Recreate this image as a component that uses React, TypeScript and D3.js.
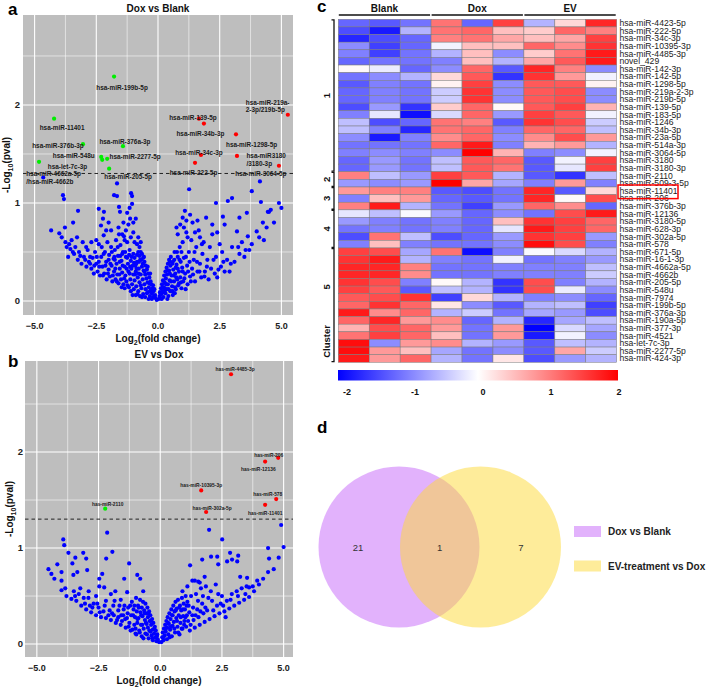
import * as d3 from 'd3'

const FONT = '"Liberation Sans", Arial, Helvetica, sans-serif'

// ---------------- volcano a : Dox vs Blank ----------------
const volcA_ns: [number, number][] = [
  [-0.05,0.01],[-0.1,0.03],[-0.12,0.06],[-0.15,0.05],[-0.18,0.1],[-0.2,0.04],[-0.22,0.13],[-0.25,0.08],[-0.27,0.17],[-0.3,0.11],
  [-0.3,0.2],[-0.33,0.05],[-0.35,0.24],[-0.37,0.14],[-0.4,0.28],[-0.4,0.09],[-0.42,0.19],[-0.45,0.32],[-0.47,0.23],[-0.5,0.36],
  [-0.5,0.12],[-0.52,0.27],[-0.55,0.4],[-0.55,0.17],[-0.58,0.31],[-0.6,0.44],[-0.6,0.07],[-0.62,0.22],[-0.65,0.48],[-0.65,0.35],
  [-0.67,0.13],[-0.7,0.5],[-0.7,0.27],[-0.72,0.42],[-0.75,0.19],[-0.75,0.46],[-0.78,0.33],[-0.8,0.1],[-0.8,0.5],[-0.82,0.24],
  [-0.85,0.4],[-0.85,0.47],[-0.88,0.15],[-0.9,0.3],[-0.92,0.36],[-0.95,0.21],[-0.95,0.44],[-0.98,0.12],[-1.0,0.27],[-1.0,0.48],
  [-1.05,0.17],[-1.08,0.33],[-1.1,0.41],[-1.12,0.22],[-1.15,0.52],[-1.18,0.14],[-1.2,0.3],[-1.22,0.38],[-1.25,0.6],[-1.28,0.2],
  [-1.3,0.45],[-1.32,0.26],[-1.35,0.35],[-1.38,0.66],[-1.4,0.17],[-1.42,0.5],[-1.45,0.29],[-1.48,0.41],[-1.5,0.22],[-1.52,0.57],
  [-1.55,0.33],[-1.58,0.68],[-1.6,0.18],[-1.62,0.46],[-1.65,0.27],[-1.68,0.38],[-1.7,0.62],[-1.72,0.22],[-1.75,0.52],[-1.78,0.3],
  [-1.8,0.43],[-1.85,0.2],[-1.88,0.36],[-1.9,0.55],[-1.95,0.25],[-1.98,0.47],[-2.0,0.32],[-2.05,0.6],[-2.08,0.22],[-2.1,0.4],
  [-2.15,0.5],[-2.18,0.28],[-2.2,0.67],[-2.25,0.35],[-2.3,0.45],[-2.35,0.26],[-2.4,0.58],[-2.45,0.3],[-2.5,0.38],[-2.55,0.5],
  [-2.6,0.28],[-2.65,0.44],[-2.7,0.33],[-2.8,0.4],[-2.85,0.52],[-2.9,0.35],[-3.0,0.45],[-3.05,0.6],[-3.1,0.38],[-3.2,0.5],
  [-3.25,0.42],[-3.35,0.55],[-3.45,0.5],[-3.5,0.62],[-3.6,0.58],
  [-0.9,0.84],[-1.13,0.84],[-1.05,0.99],[-1.05,1.07],[-1.09,1.1],[-1.54,0.91],[-1.58,0.96],[-1.66,1.07],[-1.78,1.08],[-1.66,1.2],
  [-2.31,0.77],[-2.19,0.91],[-2.23,0.84],[-2.4,0.94],[-2.75,0.45],[-2.91,0.55],[-3.28,0.65],[-3.64,0.45],[-3.7,0.55],[-3.24,0.92],
  [-3.44,0.8],[-3.77,0.75],[-3.81,1.04],[-3.85,1.08],[-4.0,0.69],[-4.33,0.72],
  [-0.95,0.6],[-1.0,0.7],[-1.1,0.65],[-1.2,0.78],[-1.3,0.72],[-1.4,0.8],[-1.0,0.8],[-0.85,0.58],[-0.75,0.55],[-1.25,0.9],
  [-1.45,0.68],[-1.6,0.75],[-1.9,0.72],[-2.0,0.8],[-2.1,0.72],[-2.5,0.62],[-2.7,0.6],[-1.15,0.95],[-1.35,0.62],[-0.7,0.6],[-0.8,0.65],
  [-0.15,0.12],[-0.25,0.02],[-0.35,0.18],[-0.45,0.08],[-0.55,0.3],[-0.65,0.04],[-0.68,0.42],[-0.78,0.28],[-0.88,0.38],[-0.9,0.06],
  [-1.02,0.36],[-1.15,0.28],[-1.25,0.44],[-1.35,0.13],[-1.45,0.48],[-1.55,0.4],[-1.75,0.42],[-2.0,0.42],[-2.2,0.48],[-2.4,0.4],
  [-0.2,0.16],[-0.32,0.28],[-0.38,0.02],[-0.42,0.35],[-0.52,0.04],[-0.57,0.45],[-0.62,0.38],[-0.7,0.16],[-0.73,0.05],[-0.77,0.4],
  [-0.83,0.07],[-0.87,0.33],[-0.93,0.27],[-0.97,0.39],[-1.03,0.06],[-1.07,0.45],[-1.1,0.1],[-1.13,0.35],[-1.17,0.47],[-1.23,0.16],
  [-1.27,0.33],[-1.33,0.5],[-1.37,0.23],[-1.43,0.36],[-1.47,0.14],[-1.53,0.46],[-1.57,0.27],[-1.63,0.55],[-1.67,0.2],[-1.73,0.33],
  [-1.77,0.45],[-1.83,0.26],[-1.87,0.5],[-1.93,0.38],[-2.03,0.28],[-2.13,0.36],[-2.23,0.26],[-2.28,0.55],[-2.38,0.35],[-2.48,0.45],
  [-2.58,0.36],[-2.75,0.38],[-2.95,0.42],[-3.15,0.46],[-3.4,0.48],[-3.55,0.53],[-3.75,0.6],[-3.9,0.65],
  [0.03,0.02],[0.06,0.05],[0.08,0.09],[0.1,0.03],[0.12,0.13],[0.14,0.07],[0.16,0.17],[0.18,0.1],[0.2,0.21],[0.22,0.04],
  [0.24,0.14],[0.25,0.26],[0.27,0.19],[0.3,0.3],[0.3,0.08],[0.32,0.23],[0.35,0.34],[0.35,0.12],[0.37,0.27],[0.4,0.38],
  [0.4,0.17],[0.42,0.05],[0.45,0.31],[0.45,0.42],[0.47,0.21],[0.5,0.1],[0.5,0.36],[0.52,0.45],[0.55,0.26],[0.57,0.15],
  [0.6,0.4],[0.6,0.06],[0.62,0.32],[0.65,0.2],[0.67,0.5],[0.7,0.28],[0.72,0.12],[0.75,0.37],[0.78,0.22],[0.8,0.45],
  [0.82,0.16],[0.85,0.3],[0.88,0.55],[0.9,0.24],[0.92,0.4],[0.95,0.13],[0.98,0.34],[1.0,0.6],[1.02,0.2],[1.05,0.44],
  [1.1,0.28],[1.15,0.7],[1.18,0.36],[1.2,0.17],[1.25,0.5],[1.3,0.25],[1.35,0.62],[1.38,0.33],[1.4,0.8],[1.45,0.42],
  [1.5,0.2],[1.55,0.55],[1.6,0.3],[1.65,0.72],[1.7,0.38],[1.75,0.24],[1.8,0.48],[1.85,0.6],[1.9,0.3],[1.95,0.85],
  [2.0,0.42],[2.05,0.22],[2.1,0.55],[2.15,0.33],[2.2,0.68],[2.3,0.28],[2.35,0.45],[2.4,0.24],[2.5,0.58],[2.55,0.35],
  [2.6,0.5],[2.7,0.3],[2.8,0.42],[2.9,0.3],[3.0,0.55],[3.1,0.4],[3.2,0.71],[3.3,0.48],[3.4,0.6],[3.5,0.45],
  [3.64,0.66],[3.7,0.52],[3.8,0.58],[4.0,0.71],[4.1,0.65],[4.29,0.62],[4.4,0.75],
  [1.09,0.92],[1.26,1.14],[0.9,0.78],[1.0,0.85],[1.15,0.82],[1.3,0.88],[1.5,0.7],[1.6,0.82],[1.7,0.65],[2.35,1.0],
  [2.63,0.86],[2.83,1.02],[3.0,1.05],[3.6,0.9],[3.8,1.12],[4.13,1.22],[4.17,1.01],[4.5,0.91],[4.25,0.8],[4.57,0.93],
  [4.45,0.91],[2.2,0.78],[2.4,0.7],[2.7,0.78],[3.3,0.85],[1.2,0.65],[0.8,0.68],[0.75,0.75],[1.05,0.75],[4.7,0.8],[4.9,1.0],[5.0,0.95],
  [0.15,0.02],[0.28,0.11],[0.38,0.02],[0.48,0.28],[0.58,0.38],[0.68,0.08],[0.72,0.34],[0.85,0.18],[0.95,0.5],[1.12,0.12],
  [0.1,0.08],[0.19,0.14],[0.23,0.09],[0.33,0.17],[0.38,0.31],[0.43,0.12],[0.48,0.4],[0.53,0.2],[0.58,0.1],[0.63,0.26],
  [0.66,0.42],[0.69,0.14],[0.74,0.24],[0.77,0.5],[0.8,0.33],[0.87,0.42],[0.93,0.19],[1.0,0.3],[1.07,0.23],[1.13,0.45],
  [1.22,0.3],[1.28,0.4],[1.33,0.2],[1.42,0.27],[1.48,0.5],[1.58,0.4],[1.68,0.3],[1.78,0.58],[1.88,0.25],[1.98,0.35],
  [2.25,0.42],[2.45,0.32],[2.65,0.4],[2.95,0.38],[3.25,0.55],[3.55,0.52],
]
const volcA_down = [
  { name: 'hsa-miR-199b-5p', x: -1.78, y: 2.29 },
  { name: 'hsa-miR-11401', x: -4.21, y: 1.86 },
  { name: 'hsa-miR-376b-3p', x: -3.04, y: 1.6 },
  { name: 'hsa-miR-376a-3p', x: -1.42, y: 1.58 },
  { name: 'hsa-miR-548u', x: -2.3, y: 1.47 },
  { name: 'hsa-miR-2277-5p', x: -2.06, y: 1.45 },
  { name: '', x: -2.26, y: 1.44 },
  { name: 'hsa-let-7c-3p', x: -4.82, y: 1.42 },
  { name: 'hsa-miR-205-5p', x: -1.98, y: 1.35 },
]
const volcA_up = [
  { name: 'hsa-miR-139-5p', x: 1.66, y: 1.86 },
  { name: 'hsa-miR-34b-3p', x: 1.86, y: 1.81 },
  { name: 'hsa-miR-1298-5p', x: 3.16, y: 1.7 },
  { name: 'hsa-miR-34c-3p', x: 1.74, y: 1.49 },
  { name: 'hsa-miR-222-5p', x: 1.5, y: 1.41 },
  { name: 'hsa-miR3180\n/3180-3p', x: 3.2, y: 1.48 },
  { name: 'hsa-miR-219a-\n2-3p/219b-5p', x: 5.26, y: 1.9 },
  { name: 'hsa-miR-3064-5p', x: 4.9, y: 1.38 },
]
const volcA_ns_labelled = [
  { name: 'hsa-miR-4662a-5p\n/hsa-miR-4662b', x: -4.65, y: 1.26 },
]
// label placement for a (pixel offsets from the point)
const labelPosA: Record<string, [number, number, string]> = {
  'hsa-miR-199b-5p': [8, 10, 'middle'],
  'hsa-miR-11401': [8, 8, 'middle'],
  'hsa-miR-376b-3p': [-25, 1, 'middle'],
  'hsa-miR-376a-3p': [2, -5, 'middle'],
  'hsa-miR-548u': [-27.5, -2, 'middle'],
  'hsa-miR-2277-5p': [28, -3, 'middle'],
  'hsa-let-7c-3p': [28.5, 4, 'middle'],
  'hsa-miR-205-5p': [19, 7, 'middle'],
  'hsa-miR-139-5p': [-6, -2, 'middle'],
  'hsa-miR-34b-3p': [-3.5, 9, 'middle'],
  'hsa-miR-1298-5p': [-10, 10, 'start'],
  'hsa-miR-34c-3p': [-2, -3, 'middle'],
  'hsa-miR-222-5p': [-1.5, 9, 'middle'],
  'hsa-miR3180\n/3180-3p': [9.5, -1, 'start'],
  'hsa-miR-219a-\n2-3p/219b-5p': [-42, -13, 'start'],
  'hsa-miR-3064-5p': [-18, 7, 'middle'],
  'hsa-miR-4662a-5p\n/hsa-miR-4662b': [-17, -4, 'start'],
}

// ---------------- volcano b : EV vs Dox ----------------
const volcB_ns: [number, number][] = [
  [-4.53,0.78],[-4.41,0.73],[-4.29,0.68],[-4.17,0.83],[-3.93,1.09],[-3.89,1.03],[-4.0,0.75],[-4.0,0.66],[-4.0,0.56],[-3.85,0.58],
  [-3.72,0.95],[-3.56,0.84],[-3.44,0.9],[-3.52,0.72],[-3.36,0.75],[-3.12,0.95],[-3.0,0.89],[-2.96,0.77],[-3.24,0.58],[-2.91,0.48],
  [-2.47,0.68],[-2.35,0.73],[-2.19,0.89],[-2.15,1.16],[-1.94,0.96],[-2.47,0.6],[-2.27,0.59],[-1.82,0.55],[-1.46,0.68],[-1.26,0.84],
  [-0.93,0.72],[-0.81,0.68],[-0.69,0.55],[-1.34,0.54],
  [-3.8,0.5],[-3.6,0.47],[-3.4,0.45],[-3.2,0.4],[-3.0,0.36],[-2.8,0.33],[-2.6,0.3],[-2.4,0.28],[-2.2,0.27],[-2.0,0.25],
  [-1.8,0.22],[-1.6,0.2],[-1.4,0.17],[-1.2,0.14],[-1.0,0.11],[-3.5,0.55],[-3.1,0.48],[-2.7,0.42],[-2.5,0.38],[-2.3,0.34],
  [-2.1,0.3],[-1.9,0.4],[-1.7,0.35],[-1.5,0.3],[-1.3,0.38],[-2.6,0.5],[-2.2,0.45],[-2.0,0.52],[-1.6,0.46],[-1.1,0.3],
  [-1.7,0.28],[-2.45,0.33],[-2.85,0.4],[-1.95,0.32],[-1.55,0.24],[-1.25,0.22],[-1.05,0.2],[-3.3,0.52],[-2.9,0.55],[-1.85,0.45],
  [-1.45,0.4],[-1.15,0.44],[-1.35,0.27],
  [-0.05,0.02],[-0.1,0.05],[-0.12,0.1],[-0.15,0.03],[-0.18,0.14],[-0.2,0.07],[-0.22,0.18],[-0.25,0.11],[-0.28,0.22],[-0.3,0.04],
  [-0.3,0.15],[-0.33,0.26],[-0.35,0.09],[-0.37,0.2],[-0.4,0.3],[-0.4,0.13],[-0.43,0.24],[-0.45,0.34],[-0.47,0.06],[-0.5,0.17],
  [-0.5,0.28],[-0.52,0.38],[-0.55,0.21],[-0.57,0.32],[-0.6,0.11],[-0.6,0.42],[-0.62,0.25],[-0.65,0.35],[-0.67,0.16],[-0.7,0.44],
  [-0.72,0.29],[-0.75,0.08],[-0.75,0.38],[-0.78,0.2],[-0.8,0.33],[-0.82,0.46],[-0.85,0.14],[-0.88,0.27],[-0.9,0.4],[-0.93,0.22],
  [-0.95,0.34],[-0.98,0.48],[-1.0,0.16],[-1.02,0.28],[-1.05,0.4],
  [-0.14,0.08],[-0.24,0.16],[-0.32,0.06],[-0.38,0.24],[-0.44,0.14],[-0.48,0.32],[-0.54,0.1],[-0.58,0.22],[-0.63,0.32],[-0.68,0.06],
  [-0.73,0.2],[-0.77,0.3],[-0.83,0.12],[-0.87,0.38],[-0.92,0.26],[-0.97,0.1],[-1.08,0.36],[-1.12,0.15],[-1.18,0.3],[-1.22,0.4],
  [-1.28,0.18],[-1.32,0.32],[-1.42,0.26],[-1.48,0.36],[-1.58,0.3],[-1.65,0.4],[-1.75,0.25],[-1.88,0.3],[-2.05,0.35],[-2.25,0.4],
  [-2.55,0.42],[-2.75,0.38],[-3.05,0.42],[-3.45,0.5],
  [0.05,0.02],[0.08,0.07],[0.1,0.12],[0.13,0.04],[0.15,0.16],[0.18,0.09],[0.2,0.2],[0.22,0.13],[0.25,0.24],[0.27,0.05],
  [0.28,0.17],[0.3,0.28],[0.33,0.1],[0.35,0.21],[0.37,0.32],[0.4,0.15],[0.42,0.26],[0.45,0.36],[0.47,0.08],[0.5,0.19],
  [0.5,0.3],[0.53,0.4],[0.55,0.23],[0.58,0.34],[0.6,0.12],[0.62,0.44],[0.65,0.27],[0.67,0.37],[0.7,0.18],[0.72,0.46],
  [0.75,0.3],[0.78,0.1],[0.8,0.4],[0.82,0.22],[0.85,0.35],[0.88,0.48],[0.9,0.16],[0.93,0.29],[0.95,0.42],[0.98,0.24],
  [1.0,0.36],[1.03,0.5],[1.05,0.18],[1.08,0.3],[1.1,0.44],
  [0.12,0.07],[0.22,0.16],[0.32,0.22],[0.38,0.07],[0.43,0.18],[0.48,0.3],[0.57,0.16],[0.63,0.35],[0.68,0.24],[0.73,0.12],
  [0.77,0.38],[0.83,0.28],[0.87,0.16],[0.92,0.36],[0.97,0.2],[1.02,0.28],[1.07,0.4],[1.13,0.24],[1.18,0.33],[1.23,0.2],
  [1.33,0.38],[1.43,0.3],[1.53,0.45],[1.63,0.34],[1.73,0.5],[1.83,0.38],[2.15,0.35],[2.35,0.52],[2.55,0.4],[2.85,0.46],
  [3.15,0.5],[3.45,0.52],[3.75,0.6],
  [1.2,0.14],[1.4,0.17],[1.6,0.2],[1.8,0.23],[2.0,0.26],[2.2,0.29],[2.4,0.32],[2.6,0.34],[2.8,0.37],[3.0,0.4],
  [3.2,0.43],[3.4,0.46],[3.6,0.49],[1.3,0.3],[1.5,0.36],[1.7,0.42],[1.9,0.35],[2.1,0.45],[2.3,0.4],[2.5,0.5],
  [2.7,0.45],[2.9,0.52],[3.1,0.55],[3.3,0.58],[3.5,0.6],[3.8,0.55],[4.0,0.62],[1.15,0.4],[1.25,0.5],[1.45,0.52],
  [1.65,0.58],[1.85,0.6],[2.05,0.55],[2.25,0.62],[1.35,0.25],[1.55,0.28],[1.75,0.32],[1.95,0.48],[2.45,0.42],[2.65,0.28],
  [1.1,0.6],[1.4,0.66],[1.6,0.64],[1.8,0.7],[0.9,0.55],
  [1.21,0.82],[1.3,0.66],[1.54,0.65],[1.7,0.88],[1.98,1.19],[2.06,0.91],[2.35,0.83],[2.31,0.91],[2.51,1.09],[2.83,0.95],
  [2.91,0.88],[3.12,0.86],[3.16,0.92],[2.71,0.86],[3.24,0.7],[3.52,0.69],[3.6,0.59],[3.93,0.66],[4.17,0.68],[4.37,1.0],
  [4.41,0.89],[4.37,0.75],[4.9,1.24],[5.0,1.01],[4.6,0.78],[4.8,0.9],
]
const volcB_down = [{ name: 'has-miR-2110', x: -2.23, y: 1.41 }]
const volcB_up = [
  { name: 'has-miR-4485-3p', x: 2.87, y: 2.81 },
  { name: 'has-miR-206', x: 4.78, y: 1.94 },
  { name: 'has-miR-12136', x: 4.25, y: 1.9 },
  { name: 'has-miR-10395-3p', x: 1.66, y: 1.6 },
  { name: 'has-miR-302a-5p', x: 1.86, y: 1.375 },
  { name: 'has-miR-578', x: 4.7, y: 1.51 },
  { name: 'has-miR-11401', x: 4.25, y: 1.45 },
]
const labelPosB: Record<string, [number, number, string]> = {
  'has-miR-2110': [2.5, -5, 'middle'],
  'has-miR-4485-3p': [4, -5, 'middle'],
  'has-miR-206': [-24, -3, 'start'],
  'has-miR-12136': [-24, 7, 'start'],
  'has-miR-10395-3p': [0, -5, 'middle'],
  'has-miR-302a-5p': [6, -4, 'middle'],
  'has-miR-578': [-23, -5, 'start'],
  'has-miR-11401': [-17, 8, 'start'],
}

const xTicks = [-5, -2.5, 0, 2.5, 5]
const xMinor = [-3.75, -1.25, 1.25, 3.75]
const yTicks = [0, 1, 2]
const yMinor = [0.5, 1.5, 2.5]

// ---------------- heatmap ----------------
const samples = ['B1', 'B2', 'B3', 'D1', 'D2', 'D3', 'E1', 'E2', 'E3']
const groups = ['Blank', 'Dox', 'EV']
const genes = [
  'hsa-miR-4423-5p','hsa-miR-222-5p','hsa-miR-34c-3p','hsa-miR-10395-3p','hsa-miR-4485-3p','novel_429',
  'hsa-miR-142-3p','hsa-miR-142-5p','hsa-miR-1298-5p','hsa-miR-219a-2-3p','hsa-miR-219b-5p','hsa-miR-139-5p',
  'hsa-miR-183-5p','hsa-miR-1246','hsa-miR-34b-3p','hsa-miR-23a-5p','hsa-miR-514a-3p','hsa-miR-3064-5p',
  'hsa-miR-3180','hsa-miR-3180-3p','hsa-miR-2110','hsa-miR-509-3-5p','hsa-miR-11401','hsa-miR-206',
  'hsa-miR-376b-3p','hsa-miR-12136','hsa-miR-3180-5p','hsa-miR-628-3p','hsa-miR-302a-5p','hsa-miR-578',
  'hsa-miR-671-5p','hsa-miR-16-1-3p','hsa-miR-4662a-5p','hsa-miR-4662b','hsa-miR-205-5p','hsa-miR-548u',
  'hsa-miR-7974','hsa-miR-199b-5p','hsa-miR-376a-3p','hsa-miR-190a-5p','hsa-miR-377-3p','hsa-miR-4521',
  'hsa-let-7c-3p','hsa-miR-2277-5p','hsa-miR-424-3p',
]
const zscores = [
  [-1.2,-1.3,-1.1,1.1,-1.2,1.5,-0.6,0.3,1.7],
  [-1.4,-1.8,-0.6,1.1,1.2,0.5,0.4,1.2,1.0],
  [-1.7,-1.4,-1.2,1.0,1.1,0.7,0.5,0.7,1.5],
  [-0.9,-1.5,-1.2,-0.1,0.5,0.5,1.2,0.9,1.6],
  [-1.0,-1.5,-1.1,-0.6,0.5,-0.9,0.4,1.1,1.8],
  [-1.2,-1.1,-1.1,-1.0,0.5,-0.6,0.7,1.3,1.8],
  [0.05,-0.15,-1.2,-0.9,1.2,-1.3,1.7,1.0,-0.9],
  [-1.1,-0.9,-0.6,0.3,1.3,-1.6,1.6,0.8,-0.1],
  [-1.3,-1.0,-1.1,0.1,1.5,-0.9,1.3,1.3,0.1],
  [-1.2,-1.0,-1.1,-0.4,1.6,-0.9,1.3,1.4,-0.9],
  [-1.2,-1.0,-1.1,-0.4,1.6,-0.9,1.3,1.4,-0.9],
  [-1.4,-0.8,-1.6,0.4,1.2,0.05,1.3,1.5,0.6],
  [-1.0,-0.2,-1.9,-0.3,1.2,-0.8,1.5,1.3,-0.1],
  [-0.5,-1.4,-1.2,1.1,1.0,-1.3,1.6,1.4,-0.4],
  [-0.5,-1.0,-1.7,1.1,1.2,-1.0,1.2,1.2,-0.5],
  [-0.9,-1.8,-1.0,0.9,1.2,-0.9,0.9,1.4,0.8],
  [-1.1,-1.1,-1.1,1.2,1.8,-1.0,0.6,0.8,-0.6],
  [-1.0,-0.9,-1.0,-0.9,2.0,0.6,-1.0,-0.9,-0.1],
  [-1.2,-0.8,-1.1,-0.5,1.3,1.2,-1.3,-0.1,1.5],
  [-1.2,-0.8,-1.1,-0.5,1.3,1.1,-1.3,-0.2,1.5],
  [1.0,-0.5,-0.8,1.5,1.3,-0.6,-1.3,-1.6,-0.5],
  [-0.8,-0.9,-0.8,2.0,0.7,-0.7,-1.0,0.8,-1.0],
  [0.8,1.0,1.0,-1.3,-1.4,-1.1,1.7,-1.3,0.3],
  [-1.0,0.5,0.8,-1.2,-1.3,-1.1,1.7,0.05,1.4],
  [1.0,1.8,-0.6,-1.1,-1.5,-0.8,1.2,0.9,-1.2],
  [-0.2,-0.5,-0.05,-0.8,-1.2,-0.9,-1.1,1.4,1.8],
  [-0.8,-1.0,-1.1,-1.0,-1.2,0.5,1.6,1.5,1.2],
  [-1.1,-1.0,-1.1,-1.0,-1.2,-0.2,1.8,1.5,1.2],
  [-1.4,1.1,-0.5,-1.4,-1.2,-0.8,1.6,1.5,-0.8],
  [-1.0,0.5,-1.0,-1.1,-1.1,-0.9,1.9,1.4,-1.0],
  [1.5,1.4,-0.7,1.1,-1.9,-1.0,-0.05,-0.3,-0.6],
  [1.6,1.8,-0.6,-1.0,-1.1,-0.1,-1.1,-1.0,-0.8],
  [1.7,1.7,1.0,-1.1,-1.1,-1.0,-1.0,-1.0,-0.5],
  [1.7,1.7,0.9,-1.1,-1.1,-1.0,-1.0,-1.0,-0.4],
  [1.6,1.4,-1.0,0.05,-0.6,-1.6,1.4,-1.0,-0.6],
  [1.5,1.3,-1.3,-0.5,-0.6,-1.6,1.4,-0.15,-0.9],
  [1.3,1.4,1.6,-1.5,0.3,-0.6,-1.0,-0.9,-1.2],
  [1.2,1.6,1.2,0.2,-0.9,-1.3,-0.6,-0.5,-1.5],
  [1.8,0.9,1.2,-0.6,-0.4,-1.1,-0.7,-0.8,-1.4],
  [1.2,1.7,0.8,0.9,-1.2,-0.6,-1.7,-0.7,-0.5],
  [0.6,1.4,1.2,0.8,-1.1,0.8,-2.0,-0.3,-0.7],
  [1.1,1.5,1.2,0.5,-1.1,0.8,-1.8,-0.1,-0.9],
  [1.9,-0.9,0.8,0.9,-0.6,-0.8,-1.3,-0.5,-0.6],
  [1.9,0.8,0.5,-0.7,-1.1,-0.9,-1.3,0.7,-0.4],
  [1.8,0.8,1.2,-0.6,-1.1,0.2,-1.4,-0.8,-0.6],
]
const clusterSizes = [20, 2, 3, 5, 15]
const clusterNames = ['1', '2', '3', '4', '5']
const highlightGene = 'hsa-miR-11401'
const legendTicks = [-2, -1, 0, 1, 2]

// ---------------- venn ----------------
const vennSets = ['Dox vs Blank', 'EV-treatment vs Dox']
const vennCounts = [21, 1, 7]

type Sig = { name: string; x: number; y: number }

function Volcano(props: {
  title: string
  left: number; right: number; top: number; bottom: number
  xDomain: [number, number]; yDomain: [number, number]
  ns: [number, number][]
  down: Sig[]; up: Sig[]; extra: Sig[]
  pos: Record<string, [number, number, string]>
  labelSize: number; labelWeight: string
  yTickRight: number; yTitleX: number
  id: string
}) {
  const { left, right, top, bottom } = props
  const x = d3.scaleLinear().domain(props.xDomain).range([left, right])
  const y = d3.scaleLinear().domain(props.yDomain).range([bottom, top])
  const thr = -Math.log10(0.05)
  const midY = (top + bottom) / 2
  const labelled = [...props.down, ...props.up, ...props.extra].filter(d => d.name)
  return (
    <g>
      <defs>
        <clipPath id={props.id}>
          <rect x={left} y={top} width={right - left} height={bottom - top} />
        </clipPath>
      </defs>
      <rect x={left} y={top} width={right - left} height={bottom - top} fill="#BEBEBE" />
      {xMinor.map(t => <line key={'xm' + t} x1={x(t)} x2={x(t)} y1={top} y2={bottom} stroke="#fff" strokeWidth={0.55} />)}
      {yMinor.map(t => <line key={'ym' + t} x1={left} x2={right} y1={y(t)} y2={y(t)} stroke="#fff" strokeWidth={0.55} />)}
      {xTicks.map(t => <line key={'xM' + t} x1={x(t)} x2={x(t)} y1={top} y2={bottom} stroke="#fff" strokeWidth={1.1} />)}
      {yTicks.map(t => <line key={'yM' + t} x1={left} x2={right} y1={y(t)} y2={y(t)} stroke="#fff" strokeWidth={1.1} />)}
      <g clipPath={`url(#${props.id})`}>
        {props.ns.map((d, i) => <circle key={'n' + i} cx={x(d[0])} cy={y(d[1])} r={2.1} fill="#0000FF" />)}
        {props.extra.map((d, i) => <circle key={'e' + i} cx={x(d.x)} cy={y(d.y)} r={2.1} fill="#0000FF" />)}
        <line x1={left} x2={right} y1={y(thr)} y2={y(thr)} stroke="#111" strokeWidth={0.9} strokeDasharray="3.5,3" />
        {props.down.map((d, i) => <circle key={'d' + i} cx={x(d.x)} cy={y(d.y)} r={2.1} fill="#00EE00" />)}
        {props.up.map((d, i) => <circle key={'u' + i} cx={x(d.x)} cy={y(d.y)} r={2.1} fill="#FF0000" />)}
        {labelled.map(d => {
          const p = props.pos[d.name] || [0, -6, 'middle']
          const lines = d.name.split('\n')
          return (
            <text key={'l' + d.name} x={x(d.x) + p[0]} y={y(d.y) + p[1]} textAnchor={p[2] as any}
              fontSize={props.labelSize} fontWeight={props.labelWeight} fill="#1a1a1a" fontFamily={FONT}
              dominantBaseline="central">
              {lines.map((ln, k) => <tspan key={k} x={x(d.x) + p[0]} dy={k === 0 ? 0 : props.labelSize * 1.2}>{ln}</tspan>)}
            </text>
          )
        })}
      </g>
      {xTicks.map(t => (
        <text key={'xt' + t} x={x(t)} y={bottom + 14} textAnchor="middle" fontSize={9} fontWeight="bold" fill="#222" fontFamily={FONT}>
          {d3.format('.1f')(t)}
        </text>
      ))}
      {yTicks.map(t => (
        <text key={'yt' + t} x={props.yTickRight} y={y(t) + 3.3} textAnchor="end" fontSize={9.5} fontWeight="bold" fill="#222" fontFamily={FONT}>
          {t}
        </text>
      ))}
      <text x={(left + right) / 2} y={top - 3} textAnchor="middle" fontSize={10} fontWeight="bold" fill="#111" fontFamily={FONT}>
        {props.title}
      </text>
      <text x={(left + right) / 2} y={bottom + 27} textAnchor="middle" fontSize={10} fontWeight="bold" fill="#111" fontFamily={FONT}>
        Log<tspan fontSize={7} dy={2.5}>2</tspan><tspan dy={-2.5}>(fold change)</tspan>
      </text>
      <text transform={`translate(${props.yTitleX},${midY}) rotate(-90)`} textAnchor="middle" fontSize={10} fontWeight="bold" fill="#111" fontFamily={FONT}>
        -Log<tspan fontSize={7} dy={2.5}>10</tspan><tspan dy={-2.5}>(pval)</tspan>
      </text>
    </g>
  )
}

function Heatmap() {
  const hx0 = 338.3, hx1 = 616.7, hy0 = 19.3, hy1 = 362.3
  const x = d3.scaleBand<string>().domain(samples).range([hx0, hx1])
  const y = d3.scaleBand<string>().domain(genes).range([hy0, hy1])
  const color = d3.scaleLinear<string>().domain([-2, 0, 2]).range(['#0000FF', '#FFFFFF', '#FF0000']).clamp(true)
  const bw = x.bandwidth()
  // cluster ranges
  let acc = 0
  const clusters = clusterSizes.map((n, i) => {
    const start = acc
    acc += n
    return { name: clusterNames[i], y0: y(genes[start])!, y1: y(genes[acc - 1])! + y.bandwidth() }
  })
  const lt = d3.scaleLinear().domain([-2, 2]).range([347, 619])
  const hl = y(highlightGene)!
  return (
    <g fontFamily={FONT}>
      <text x={317} y={12} fontSize={17} fontWeight="bold" fill="#000">c</text>
      {groups.map((g, i) => {
        const gx0 = x(samples[i * 3])! + 0.5
        const gx1 = x(samples[i * 3 + 2])! + bw - 1
        return (
          <g key={g}>
            <text x={(gx0 + gx1) / 2} y={12} textAnchor="middle" fontSize={10} fontWeight="bold" fill="#111">{g}</text>
            <line x1={gx0} x2={gx1} y1={15} y2={15} stroke="#111" strokeWidth={1.5} />
          </g>
        )
      })}
      {genes.map((gname, r) => samples.map((s, c) => (
        <rect key={gname + s} x={x(s)} y={y(gname)} width={bw} height={y.bandwidth()}
          fill={color(zscores[r][c])} stroke="#7a7a7a" strokeWidth={0.5} />
      )))}
      {genes.map(gname => (
        <text key={'t' + gname} x={619.5} y={y(gname)! + y.bandwidth() / 2} dominantBaseline="central"
          fontSize={8.6} fill="#222">{gname}</text>
      ))}
      <rect x={618} y={hl - 2} width={60} height={y.bandwidth() + 6} fill="none" stroke="#FF0000" strokeWidth={1.5} />
      {clusters.map((c, i) => {
        const a = c.y0 + 0.6, b = c.y1 - 0.6
        const ly = i === clusters.length - 1 ? (a + 325) / 2 : (a + b) / 2
        return (
          <g key={'c' + c.name}>
            <path d={`M331.5,${a}H334V${b}H331.5`} fill="none" stroke="#111" strokeWidth={1.3} />
            <text transform={`translate(${330},${ly}) rotate(-90)`} textAnchor="middle" fontSize={9.5} fontWeight="bold" fill="#111">{c.name}</text>
          </g>
        )
      })}
      <text transform="translate(330,341.5) rotate(-90)" textAnchor="middle" fontSize={9.5} fontWeight="bold" fill="#111">Cluster</text>
      <defs>
        <linearGradient id="cbar" x1="0" x2="1" y1="0" y2="0">
          {[-2, -1, 0, 1, 2].map(v => <stop key={v} offset={(v + 2) / 4} stopColor={color(v)} />)}
        </linearGradient>
      </defs>
      <rect x={338} y={370} width={280} height={10.5} fill="url(#cbar)" />
      {legendTicks.map(t => (
        <text key={'lt' + t} x={lt(t)} y={395} textAnchor="middle" fontSize={9} fontWeight="bold" fill="#111">{t}</text>
      ))}
    </g>
  )
}

function Venn() {
  const cy = 547, r = 80.5
  const cx = [399, 480.5]
  return (
    <g fontFamily={FONT}>
      <text x={317} y={433} fontSize={17} fontWeight="bold" fill="#000">d</text>
      <circle cx={cx[0]} cy={cy} r={r} fill="#C566F9" fillOpacity={0.5} />
      <circle cx={cx[1]} cy={cy} r={r} fill="#FDD935" fillOpacity={0.5} />
      <text x={358} y={cy + 3.5} textAnchor="middle" fontSize={9.5} fill="#333">{vennCounts[0]}</text>
      <text x={(cx[0] + cx[1]) / 2} y={cy + 3.5} textAnchor="middle" fontSize={9.5} fill="#333">{vennCounts[1]}</text>
      <text x={521} y={cy + 3.5} textAnchor="middle" fontSize={9.5} fill="#333">{vennCounts[2]}</text>
      {vennSets.map((s, i) => (
        <g key={s}>
          <rect x={574} y={526 + i * 34.5} width={27} height={11} fill={i === 0 ? '#C566F9' : '#FDD935'} fillOpacity={0.5} />
          <text x={608} y={531.5 + i * 34.5} dominantBaseline="central" fontSize={10} fontWeight="bold" fill="#222">{s}</text>
        </g>
      ))}
    </g>
  )
}

export default function App() {
  return (
    <svg width={709} height={688} style={{ position: 'absolute', left: 0, top: 0, background: '#fff' }}>
      <text x={8} y={15} fontSize={17} fontWeight="bold" fill="#000" fontFamily={FONT}>a</text>
      <Volcano id="clipA" title="Dox vs Blank" left={23} right={293} top={15} bottom={315}
        xDomain={[-5.47, 5.47]} yDomain={[-0.143, 2.918]}
        ns={volcA_ns} down={volcA_down} up={volcA_up} extra={volcA_ns_labelled} pos={labelPosA}
        labelSize={6.4} labelWeight="bold" yTickRight={20} yTitleX={10} />
      <text x={8} y={367} fontSize={17} fontWeight="bold" fill="#000" fontFamily={FONT}>b</text>
      <Volcano id="clipB" title="EV vs Dox" left={25} right={293} top={361} bottom={657}
        xDomain={[-5.48, 5.38]} yDomain={[-0.135, 2.948]}
        ns={volcB_ns} down={volcB_down} up={volcB_up} extra={[]} pos={labelPosB}
        labelSize={4.9} labelWeight="bold" yTickRight={23} yTitleX={13} />
      <Heatmap />
      <Venn />
    </svg>
  )
}
